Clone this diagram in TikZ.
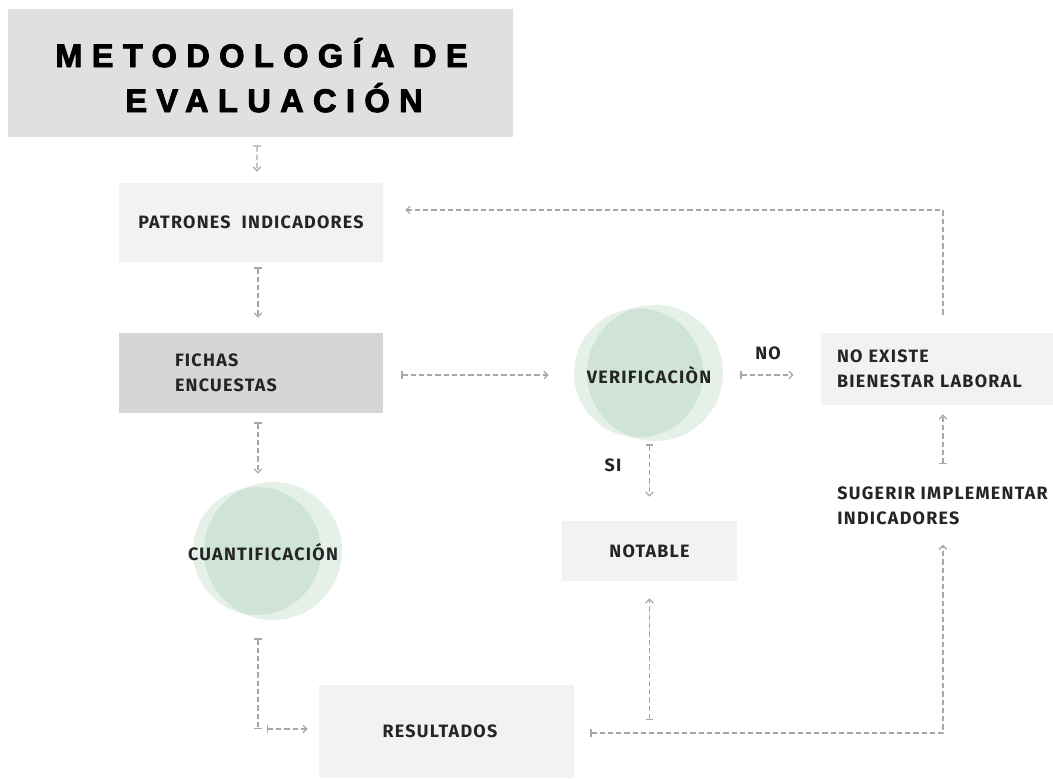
\documentclass[tikz,border=0pt]{standalone}
\usepackage{fontspec}
\setmainfont{Fira Sans}[LetterSpace=7]
\newfontfamily\titlefont{Liberation Sans}[UprightFont={* Bold}, LetterSpace=29, FakeBold=3]
\usetikzlibrary{arrows.meta,calc}
\definecolor{titlegray}{HTML}{E0E0E0}
\definecolor{boxgray}{HTML}{F2F2F2}
\definecolor{fichagray}{HTML}{D6D6D6}
\definecolor{arrowgray}{HTML}{A8A8A8}
\definecolor{txt}{HTML}{252525}
\definecolor{mint}{RGB}{131,188,150}
\tikzset{
  barT/.tip={Bar[width=4.5pt,line width=0.7pt]},
  headT/.tip={Straight Barb[length=2.2pt,width=4.4pt,line width=0.7pt]}
}
\begin{document}
\begin{tikzpicture}[x=0.02cm,y=-0.02cm,
  box/.style={rectangle, inner sep=0pt, font=\bfseries\fontsize{10.2}{14}\selectfont, text=txt},
  titletext/.style={inner sep=0pt, font=\titlefont\fontsize{18.5}{20}\selectfont, text=black},
  bubble/.style={circle, fill=mint, fill opacity=0.21, draw=none, inner sep=0pt},
  conn/.style={draw=arrowgray, line width=0.7pt, dash pattern=on 3pt off 1.7pt, arrows={barT-headT}}
]
\useasboundingbox (0,0) rectangle (1053,778);
\fill[white] (0,0) rectangle (1053,778);

% title
\node[fill=titlegray, minimum width=10.1cm, minimum height=2.56cm, inner sep=0pt] (title) at (260.5,73) {};
\node[titletext, anchor=base west] (title1) at (55,67) {METODOLOGÍA DE};
\node[titletext, anchor=base west] (title2) at (125,112) {EVALUACIÓN};

% boxes
\node[box, fill=boxgray, minimum width=5.28cm, minimum height=1.58cm] (patr) at (251,222.5) {PATRONES\ \ INDICADORES};
\node[box, fill=fichagray, minimum width=5.28cm, minimum height=1.6cm, align=left, text width=3.04cm] (fichas) at (251,373) {FICHAS\\ENCUESTAS};
\node[box, fill=boxgray, minimum width=4.64cm, minimum height=1.44cm, align=left, text width=4cm] (noex) at (937,369) {NO EXISTE\\BIENESTAR LABORAL};
\node[box, fill=boxgray, minimum width=3.5cm, minimum height=1.2cm] (notable) at (649.5,551) {NOTABLE};
\node[box, fill=boxgray, minimum width=5.1cm, minimum height=1.86cm] (res) at (446.5,731.5) {RESULTADOS\hspace*{0.26cm}};
\node[box, anchor=west, align=left] (sug) at (837,506) {SUGERIR IMPLEMENTAR\\INDICADORES};

% circles
\node[bubble, minimum size=2.56cm] (cuantA) at (257,551) {};
\node[bubble, minimum size=2.76cm] (cuantB) at (273,551) {};
\node[box] (cuant) at (263,552) {CUANTIFICACIÓN};
\node[bubble, minimum size=2.58cm] (verifA) at (638.5,373) {};
\node[bubble, minimum size=2.72cm] (verifB) at (655,373) {};
\node[box] (verif) at (649,375) {VERIFICACIÒN};

% labels
\node[box] (no) at (768,353) {NO};
\node[box] (si) at (613,465) {SI};

% helper coordinates
\coordinate (cq) at (258,729);
\coordinate (rc) at (943,733);
\coordinate (br) at (649.5,720);
\coordinate (fb) at (943,210);

% connectors
\draw[conn, shorten <=0.16cm, shorten >=0.22cm] ([xshift=-0.07cm]title.south) -- ([xshift=0.12cm]patr.north);
\draw[conn, shorten <=0.1cm, shorten >=0.3cm] ([xshift=0.14cm]patr.south) -- ([xshift=0.14cm]fichas.north);
\draw[conn, shorten <=0.18cm, shorten >=0.16cm] ([xshift=0.14cm]fichas.south) -- ([xshift=0.14cm]fichas.south |- cuantB.north);
\draw[conn, arrows={barT-barT}, shorten <=0.46cm] (cuantA.south -| cq) -- (cq);
\draw[conn, shorten <=0.18cm, shorten >=0.22cm] (cq) -- (cq -| res.west);
\draw[conn, shorten <=0.36cm, shorten >=0.5cm] (fichas.east |- verif.center) -- (verifA.west |- verif.center);
\draw[conn, shorten <=0.34cm, shorten >=0.54cm] (verifB.east |- verif.center) -- (noex.west |- verif.center);
\draw[conn, shorten <=0.06cm, shorten >=0.48cm] (notable.north |- verifB.south) -- (notable.north);
\draw[conn, shorten >=0.34cm] (br) -- (notable.south);
\draw[conn, shorten <=0.32cm, shorten >=0.39cm] (res.east |- rc) -- (rc) -- (rc |- sug.south);
\draw[conn, shorten <=0.45cm, shorten >=0.18cm] (rc |- sug.north) -- (rc |- noex.south);
\draw[conn, arrows={-headT}, shorten <=0.36cm, shorten >=0.44cm] (noex.north -| fb) -- (fb) -- (fb -| patr.east);
\end{tikzpicture}
\end{document}
